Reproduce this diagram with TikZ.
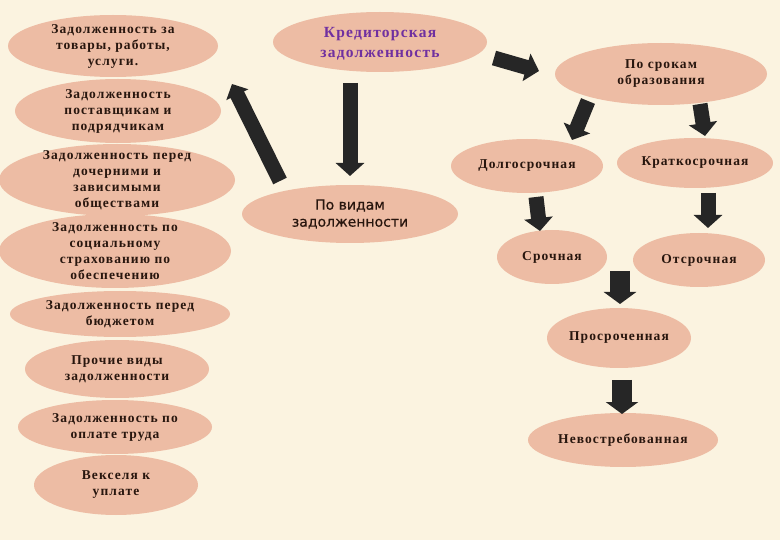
\documentclass[tikz,border=0pt]{standalone}
\usepackage{fontspec}
\setmainfont{Liberation Serif}
\newfontfamily\spacedfnt[LetterSpace=8]{Liberation Serif}
\newfontfamily\sansfnt[FakeBold=0.6]{DejaVu Sans}
\usetikzlibrary{arrows.meta}
\definecolor{bgcol}{RGB}{251,243,224}
\definecolor{ovalcol}{RGB}{237,188,164}
\definecolor{arrcol}{RGB}{38,38,38}
\definecolor{txtcol}{RGB}{40,22,14}
\definecolor{purp}{RGB}{112,48,160}
\tikzset{
  ovalfill/.style={fill=ovalcol},
  ovaltext/.style={align=center, inner sep=0pt, text=txtcol,
    font=\spacedfnt\fontsize{13.5}{16}\selectfont\bfseries},
  blkarrow/.style={draw=arrcol, line width=15pt,
    -{Triangle[width=28pt,length=13pt]}},
}
\newcommand{\ovalnode}[7][]{%
  \fill[ovalfill] (#3,#4) ellipse [x radius=#5pt, y radius=#6pt];
  \node[ovaltext,#1] (#2) at (#3,#4) {#7};}
\begin{document}
\begin{tikzpicture}[x=1pt,y=-1pt]
\fill[bgcol] (0,0) rectangle (780,540);
\useasboundingbox (0,0) rectangle (780,540);
% left column
\ovalnode{a1}{113}{46}{105}{31}{Задолженность за\\товары, работы,\\услуги.}
\ovalnode{a2}{118}{111}{103}{32}{Задолженность\\поставщикам и\\подрядчикам}
\ovalnode{a3}{117}{180}{118}{36}{Задолженность перед\\дочерними и\\зависимыми\\обществами}
\ovalnode{a4}{115}{251}{116}{37}{Задолженность по\\социальному\\страхованию по\\обеспечению}
\ovalnode{a5}{120}{314}{110}{23}{Задолженность перед\\бюджетом}
\ovalnode{a6}{117}{369}{92}{29}{Прочие виды\\задолженности}
\ovalnode{a7}{115}{427}{97}{27}{Задолженность по\\оплате труда}
\ovalnode{a8}{116}{485}{82}{30}{Векселя к\\уплате}
% centre
\fill[ovalfill] (380,42) ellipse [x radius=107pt, y radius=30pt];
\node[ovaltext, text=purp, font=\spacedfnt\fontsize{15.5}{20}\selectfont\bfseries] (kz) at (380,44) {Кредиторская\\задолженность};
\ovalnode[font=\sansfnt\fontsize{14}{17}\selectfont]{pv}{350}{214}{108}{29}{По видам\\задолженности}
% right side
\ovalnode{ps}{661}{74}{106}{31}{По срокам\\образования}
\ovalnode{dl}{527}{166}{76}{27}{Долгосрочная}
\ovalnode{kr}{695}{163}{78}{25}{Краткосрочная}
\ovalnode{sr}{552}{257}{55}{27}{Срочная}
\ovalnode{ot}{699}{260}{66}{27}{Отсрочная}
\ovalnode{pr}{619}{338}{72}{30}{Просроченная}
\ovalnode{nv}{623}{440}{95}{27}{Невостребованная}
% arrow end points
\coordinate (kzS) at (350,83);
\coordinate (pvN) at (350,176);
\coordinate (pvW) at (280,181);
\coordinate (a2E) at (232,84);
\coordinate (kzE) at (494,58);
\coordinate (psW) at (539,71);
\coordinate (psSW) at (588,101);
\coordinate (dlN) at (572,140);
\coordinate (psSE) at (700,104);
\coordinate (krN) at (705,136);
\coordinate (dlS) at (536,197);
\coordinate (srN) at (540,231);
\coordinate (krS) at (708,193);
\coordinate (otN) at (708,228);
\coordinate (mid) at (620,271);
\coordinate (prN) at (620,304);
\coordinate (prS) at (622,380);
\coordinate (nvN) at (622,414);
% arrows
\draw[blkarrow] (kzS) -- (pvN);
\draw[blkarrow, -{Triangle[width=24pt,length=12pt]}] (pvW) -- (a2E);
\draw[blkarrow] (kzE) -- (psW);
\draw[blkarrow] (psSW) -- (dlN);
\draw[blkarrow] (psSE) -- (krN);
\draw[blkarrow] (dlS) -- (srN);
\draw[blkarrow] (krS) -- (otN);
\draw[blkarrow, line width=20pt, -{Triangle[width=32pt,length=12pt]}] (mid) -- (prN);
\draw[blkarrow, line width=20pt, -{Triangle[width=32pt,length=12pt]}] (prS) -- (nvN);
\end{tikzpicture}
\end{document}
